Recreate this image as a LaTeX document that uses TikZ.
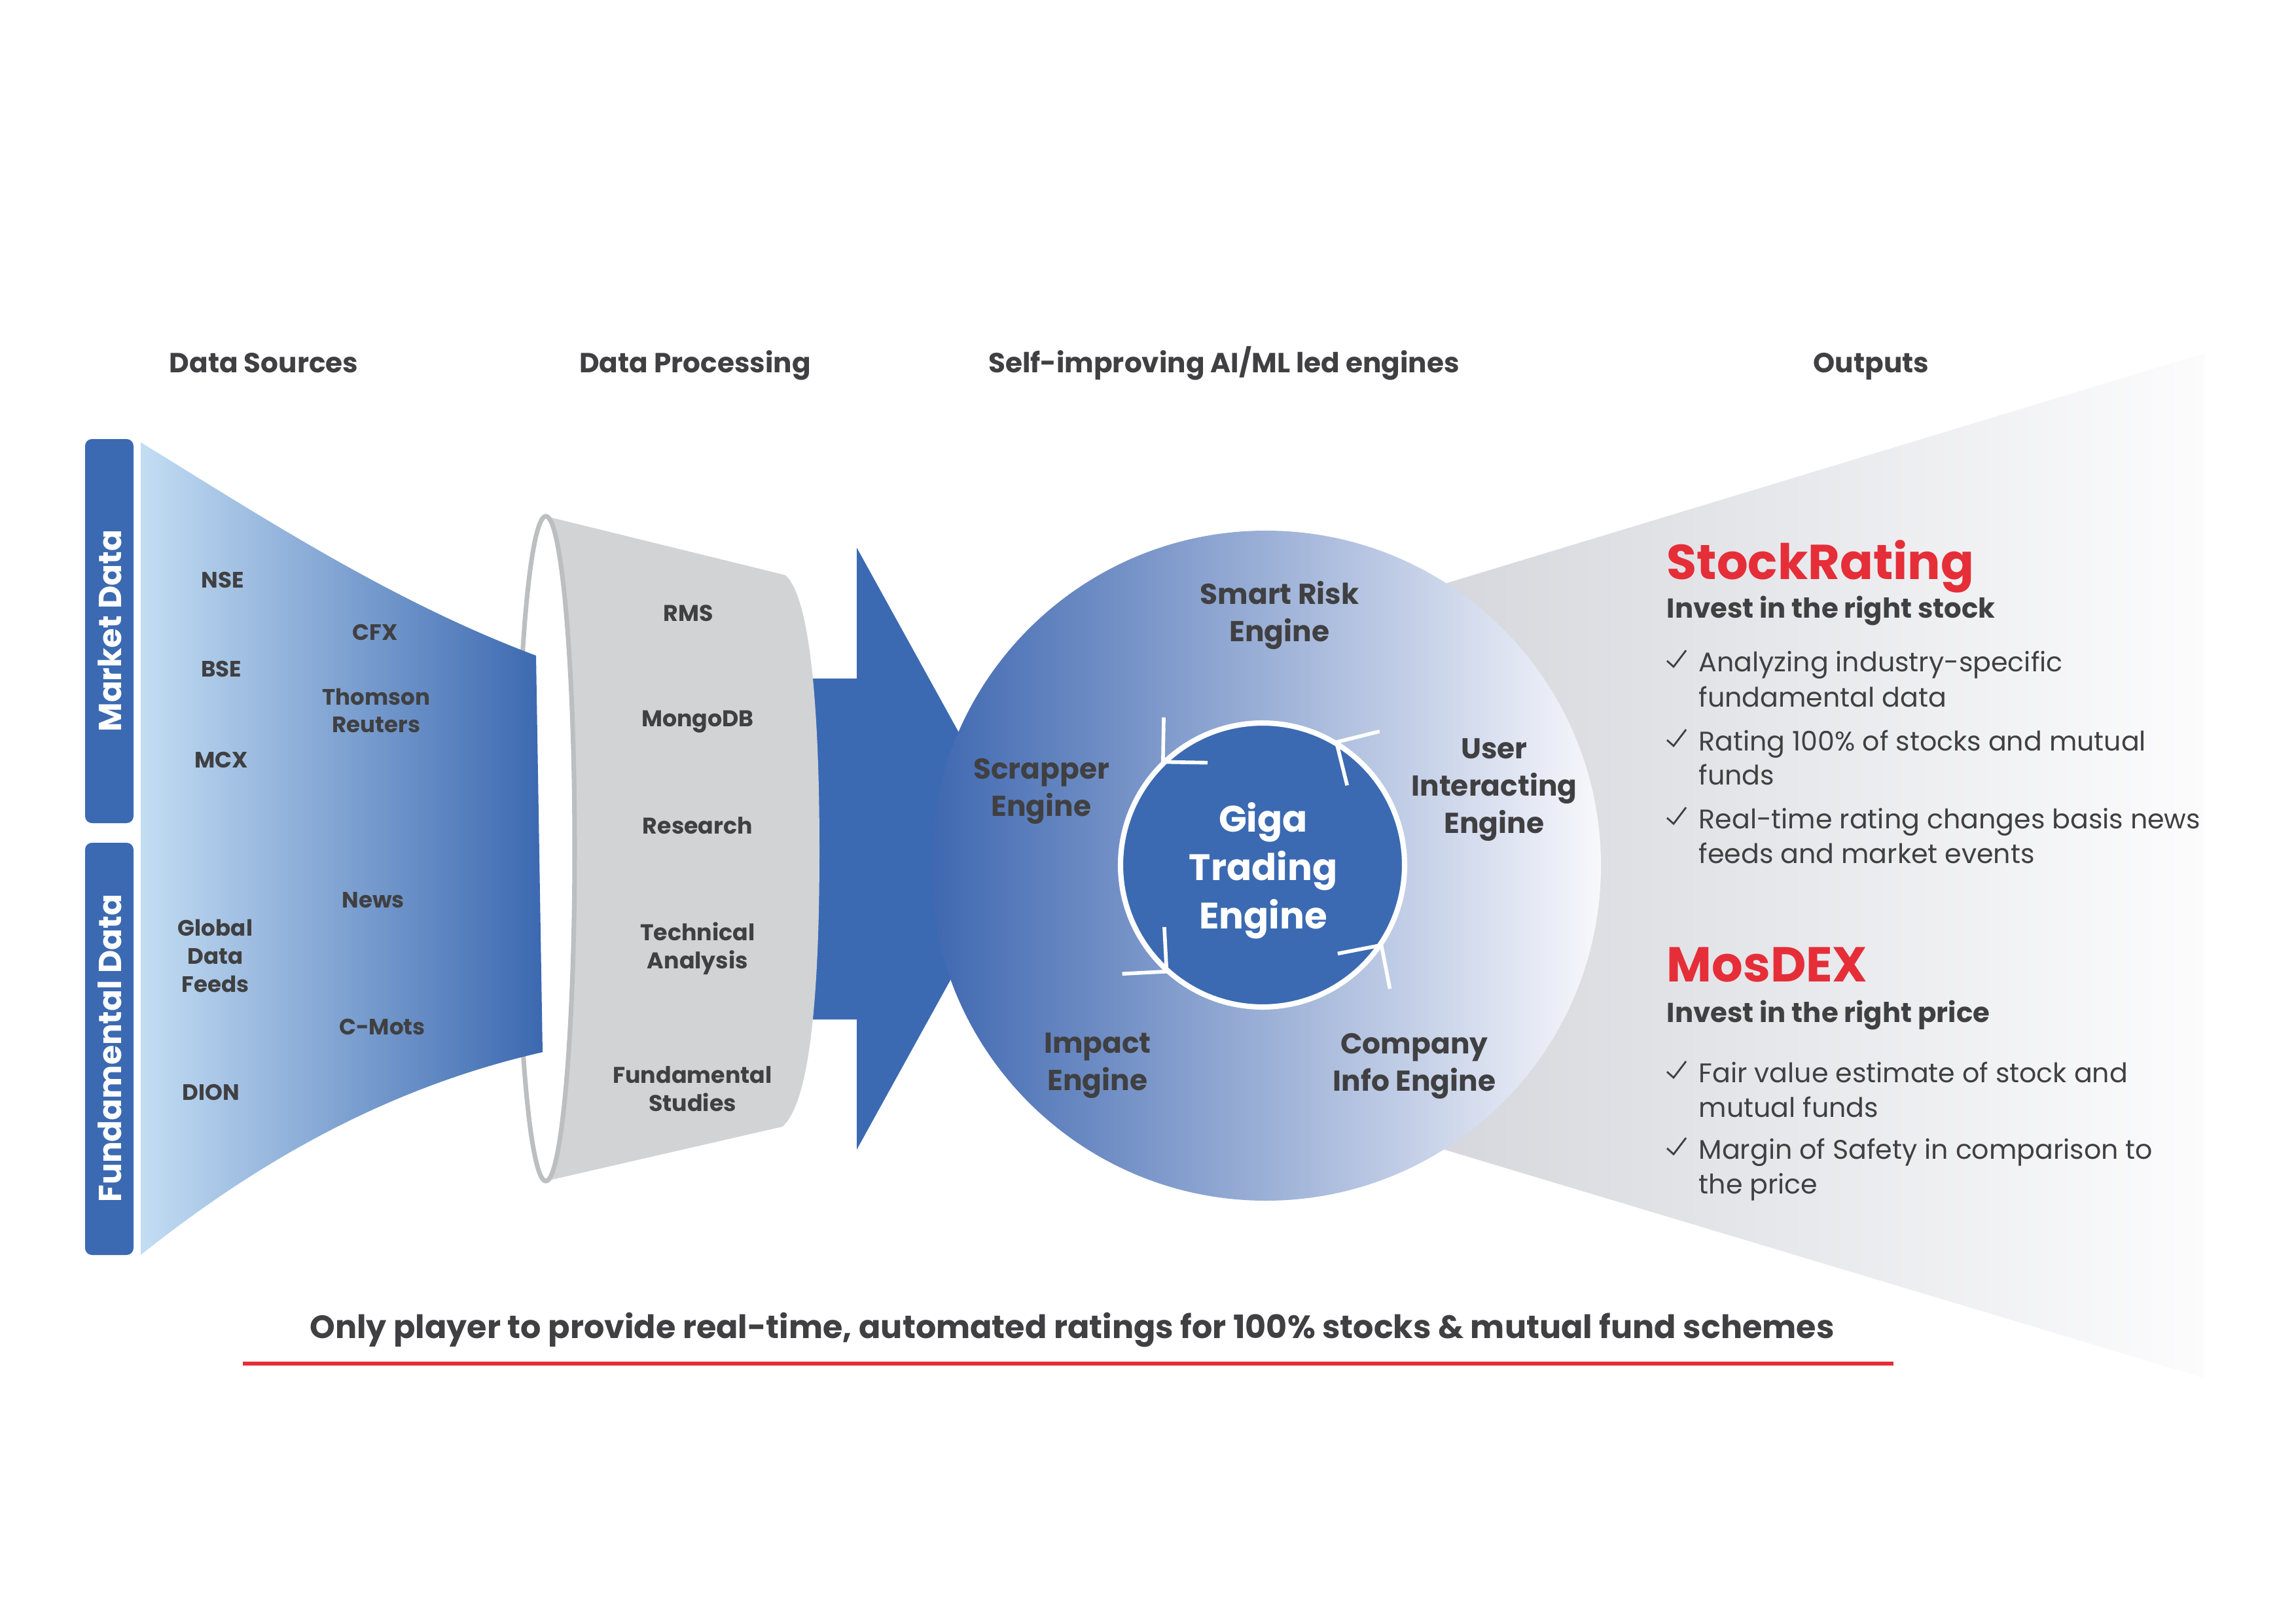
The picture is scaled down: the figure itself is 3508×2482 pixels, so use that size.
\documentclass[tikz,border=0pt]{standalone}
\usepackage{fontspec}
\setmainfont{Poppins}
\newcommand{\setfs}[2]{\fontsize{#1}{#2}\selectfont}
\definecolor{bluemain}{HTML}{3B6AB2}
\definecolor{textdark}{HTML}{404042}
\definecolor{brandred}{HTML}{E52E38}
\definecolor{conebody}{HTML}{D1D3D4}
\definecolor{ellgray}{HTML}{BCBEC0}
\definecolor{funL}{HTML}{C3DDF3}
\definecolor{funR}{HTML}{3B68B0}
\definecolor{circL}{HTML}{3F68B1}
\definecolor{circM}{HTML}{A3B1DA}
\definecolor{circR}{HTML}{F8F8FC}
\definecolor{outL}{HTML}{CDCFD5}
\definecolor{outM}{HTML}{E2E3E7}
\definecolor{outR}{HTML}{FCFCFD}
\tikzset{
  txt/.style={text=textdark, inner sep=0pt},
  hdr/.style={txt, font=\setfs{12}{14}\bfseries},
  srclab/.style={txt, align=center, font=\setfs{9.7}{12.2}\bfseries},
  vlab/.style={inner sep=0pt, text=white, rotate=90, font=\setfs{13.8}{16}\bfseries},
  conelab/.style={txt, align=center, font=\setfs{9.9}{12.2}\bfseries},
  englab/.style={txt, align=center, font=\setfs{12.5}{16.2}\bfseries},
  gigalab/.style={inner sep=0pt, text=white, align=center, font=\setfs{16}{21}\bfseries},
  brand/.style={inner sep=0pt, text=brandred, anchor=base west, font=\setfs{21.3}{24}\bfseries},
  tagline/.style={txt, anchor=base west, font=\setfs{11.9}{14}\bfseries},
  bullet/.style={txt, anchor=base west, font=\setfs{11.7}{14}},
  checkmark/.style={draw=textdark, line width=0.8pt, line join=miter},
  bottomlab/.style={txt, anchor=base, font=\setfs{14}{16}\bfseries},
  cyclearrow/.style={draw=white, line width=1.6pt, line join=miter}
}
\begin{document}
\begin{tikzpicture}[x=0.01cm,y=-0.01cm]
\fill[white] (0,0) rectangle (3508,2482);
\useasboundingbox (0,0) rectangle (3508,2482);

% output cone (behind circle)
\shade[left color=outL, middle color=outM, right color=outR]
  (1934,975) -- (3368,540) -- (3368,2106) -- (1934,1675) -- cycle;

% big arrow
\fill[bluemain] (1239,1037) -- (1309,1037) -- (1309,837) -- (1563,1297)
  -- (1309,1757) -- (1309,1558) -- (1239,1558) -- cycle;

% engines circle
\shade[left color=circL, middle color=circM, right color=circR]
  (1934,1323) circle[radius=512];

% giga circle
\draw[white, line width=2.3pt, fill=bluemain] (1929,1322) circle[radius=217];
\foreach \a in {134,59,-34,-132}{
  \draw[cyclearrow]
    ({1929+219*cos(\a)+68*cos(\a-45)},{1322-219*sin(\a)-68*sin(\a-45)})
    -- ({1929+219*cos(\a)},{1322-219*sin(\a)})
    -- ({1929+219*cos(\a)+68*cos(\a-135)},{1322-219*sin(\a)-68*sin(\a-135)});
}

% data processing cone
\fill[conebody] (834,789) -- (1200,879) .. controls (1240,915) and (1252,1100) .. (1252,1300)
  .. controls (1252,1500) and (1240,1685) .. (1195,1722) -- (834,1805) -- cycle;
\draw[ellgray, line width=2pt, fill=white] (834,1297) ellipse [x radius=44, y radius=508];

% data sources funnel
\shade[left color=funL, right color=funR]
  (215,676) .. controls (400,790) and (600,920) .. (819,1002) -- (829,1608)
  .. controls (600,1660) and (400,1770) .. (215,1918) -- cycle;

% side bars
\fill[bluemain, rounded corners=3pt] (130,671) rectangle (204,1258);
\fill[bluemain, rounded corners=3pt] (130,1288) rectangle (204,1918);
\node[vlab] (md) at (168,964) {Market Data};
\node[vlab] (fd) at (168,1602) {Fundamental Data};

% headers
\node[hdr, anchor=base] (h1) at (403,570) {Data Sources};
\node[hdr, anchor=base] (h2) at (1062,570) {Data Processing};
\node[hdr, anchor=base] (h3) at (1870,570) {Self-improving AI/ML led engines};
\node[hdr, anchor=base] (h4) at (2859,570) {Outputs};

% sources
\node[srclab] (nse) at (340,886) {NSE};
\node[srclab] (bse) at (338,1022) {BSE};
\node[srclab] (mcx) at (338,1161) {MCX};
\node[srclab] (cfx) at (573,966) {CFX};
\node[srclab] (tr) at (575,1086) {Thomson\\Reuters};
\node[srclab] (news) at (570,1376) {News};
\node[srclab] (gdf) at (329,1461) {Global\\Data\\Feeds};
\node[srclab] (cmots) at (584,1570) {C-Mots};
\node[srclab] (dion) at (322,1669) {DION};

% processing
\node[conelab] (rms) at (1052,937) {RMS};
\node[conelab] (mongo) at (1066,1103) {MongoDB};
\node[conelab] (research) at (1066,1262) {Research};
\node[conelab] (tech) at (1066,1450) {Technical\\Analysis};
\node[conelab] (fund) at (1058,1664) {Fundamental\\Studies};

% engines
\node[englab] (smart) at (1955,940) {Smart Risk\\Engine};
\node[englab] (scrap) at (1591,1209) {Scrapper\\Engine};
\node[englab] (user) at (2283,1207) {User\\Interacting\\Engine};
\node[englab] (impact) at (1677,1629) {Impact\\Engine};
\node[englab] (company) at (2161,1629) {Company\\Info Engine};
\node[gigalab] (giga) at (1930,1331) {Giga\\Trading\\Engine};

% outputs
\node[brand] (sr) at (2546,885) {StockRating};
\node[tagline] (sr1) at (2546,944) {Invest in the right stock};
\node[bullet] (b1a) at (2595,1026) {Analyzing industry-specific};
\node[bullet] (b1b) at (2595,1080) {fundamental data};
\node[bullet] (b2a) at (2595,1147) {Rating 100\% of stocks and mutual};
\node[bullet] (b2b) at (2595,1199) {funds};
\node[bullet] (b3a) at (2595,1266) {Real-time rating changes basis news};
\node[bullet] (b3b) at (2595,1319) {feeds and market events};
\node[brand] (mx) at (2546,1500) {MosDEX};
\node[tagline] (mx1) at (2546,1562) {Invest in the right price};
\node[bullet] (b4a) at (2595,1654) {Fair value estimate of stock and};
\node[bullet] (b4b) at (2595,1707) {mutual funds};
\node[bullet] (b5a) at (2595,1771) {Margin of Safety in comparison to};
\node[bullet] (b5b) at (2595,1824) {the price};
\foreach \b in {1026,1147,1266,1654,1771}{
  \draw[checkmark] (2547,{\b-16}) -- (2557,{\b-7}) -- (2576,{\b-32});
}

% bottom statement
\node[bottomlab] (bottom) at (1638,2045) {Only player to provide real-time, automated ratings for 100\% stocks \& mutual fund schemes};
\coordinate (ulL) at (371,2084);
\coordinate (ulR) at (2893,2084);
\draw[brandred, line width=1.7pt] (ulL) -- (ulR);
\end{tikzpicture}
\end{document}
